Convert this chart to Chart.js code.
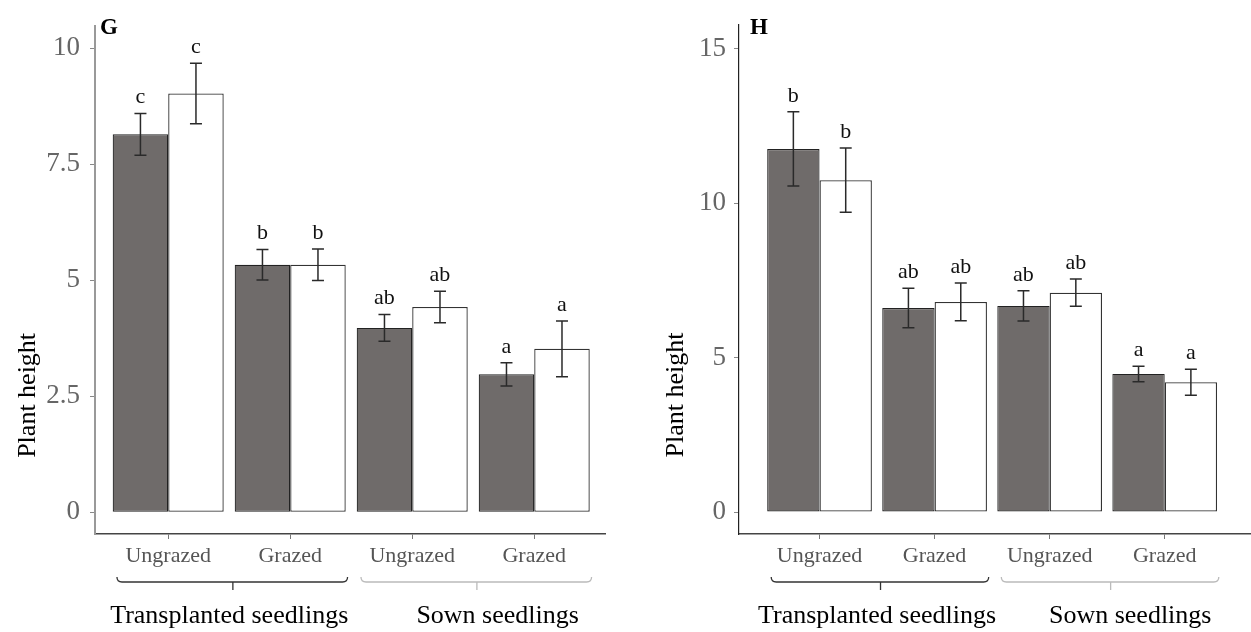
<!DOCTYPE html>
<html>
<head>
<meta charset="utf-8">
<script src="https://cdn.jsdelivr.net/npm/chart.js@4/dist/chart.umd.min.js"></script>
<style>
  body { margin: 0; background: #fff; }
  .panel { position: absolute; top: 0; }
</style>
</head>
<body>
<div class="panel" style="left:0"><canvas id="chart-g" width="625" height="632"></canvas></div>
<div class="panel" style="left:625px"><canvas id="chart-h" width="626" height="632"></canvas></div>
<script>
const categories = ['Ungrazed', 'Grazed', 'Ungrazed', 'Grazed'];
const groupNames = ['Transplanted seedlings', 'Sown seedlings'];

// panel G
const gDark = [8.14, 5.33, 3.97, 2.97];
const gDarkErr = [0.45, 0.33, 0.29, 0.25];
const gLight = [9.02, 5.33, 4.42, 3.52];
const gLightErr = [0.65, 0.34, 0.34, 0.6];
const gDarkLetters = ['c', 'b', 'ab', 'a'];
const gLightLetters = ['c', 'b', 'ab', 'a'];
const gTicks = [0, 2.5, 5, 7.5, 10];

// panel H
const hDark = [11.75, 6.6, 6.67, 4.47];
const hDarkErr = [1.2, 0.64, 0.49, 0.25];
const hLight = [10.74, 6.8, 7.1, 4.2];
const hLightErr = [1.04, 0.61, 0.44, 0.42];
const hDarkLetters = ['b', 'ab', 'ab', 'a'];
const hLightLetters = ['b', 'ab', 'ab', 'a'];
const hTicks = [0, 5, 10, 15];

const SERIF = '"Liberation Serif", "DejaVu Serif", serif';

// error bars, letters, brackets and panel tag
const annotate = {
    id: 'annotate',
    afterDatasetsDraw(chart, args, o) {
        const ctx = chart.ctx;
        const y = chart.scales.y;
        ctx.save();
        chart.data.datasets.forEach((ds, di) => {
            const meta = chart.getDatasetMeta(di);
            meta.data.forEach((bar, i) => {
                const v = ds.data[i].y, e = o.errors[di][i];
                const top = y.getPixelForValue(v + e), bot = y.getPixelForValue(v - e);
                ctx.strokeStyle = '#2a2a2a';
                ctx.lineWidth = 1.5;
                ctx.beginPath();
                ctx.moveTo(bar.x, top); ctx.lineTo(bar.x, bot);
                ctx.moveTo(bar.x - 6, top); ctx.lineTo(bar.x + 6, top);
                ctx.moveTo(bar.x - 6, bot); ctx.lineTo(bar.x + 6, bot);
                ctx.stroke();
                ctx.fillStyle = '#111';
                ctx.font = '22px ' + SERIF;
                ctx.textAlign = 'center';
                ctx.textBaseline = 'alphabetic';
                ctx.fillText(o.letters[di][i], bar.x, top - 10);
            });
        });
        ctx.restore();
    },
    afterDraw(chart, args, o) {
        const ctx = chart.ctx;
        const x = chart.scales.x;
        const area = chart.chartArea;
        ctx.save();
        // panel tag
        ctx.fillStyle = '#000';
        ctx.font = 'bold 23px ' + SERIF;
        ctx.textAlign = 'left';
        ctx.textBaseline = 'alphabetic';
        ctx.fillText(o.tag, area.left + o.tagDx, 34);
        // y title
        ctx.save();
        ctx.translate(o.titleX, area.top + 0.727 * (area.bottom - area.top));
        ctx.rotate(-Math.PI / 2);
        ctx.font = '26px ' + SERIF;
        ctx.textAlign = 'center';
        ctx.textBaseline = 'middle';
        ctx.fillText('Plant height', 0, 0);
        ctx.restore();
        // group brackets
        const by = 582;
        o.groups.forEach((g, gi) => {
            const l = x.getPixelForValue(g.from - 0.42);
            const r = x.getPixelForValue(g.to + 0.47);
            const c = x.getPixelForValue((g.from + g.to) / 2 + 0.03);
            ctx.strokeStyle = gi === 0 ? '#333' : '#bbb';
            ctx.lineWidth = 1.3;
            ctx.beginPath();
            ctx.moveTo(l, by - 5);
            ctx.quadraticCurveTo(l, by, l + 5, by);
            ctx.lineTo(r - 5, by);
            ctx.quadraticCurveTo(r, by, r, by - 5);
            ctx.moveTo(c, by);
            ctx.lineTo(c, by + 8);
            ctx.stroke();
            ctx.fillStyle = '#000';
            ctx.font = '26px ' + SERIF;
            ctx.textAlign = 'center';
            ctx.fillText(groupNames[gi], x.getPixelForValue(g.labelAt), 623);
        });
        ctx.restore();
    }
};

function makePanel(canvasId, dark, darkErr, light, lightErr, darkLetters, lightLetters, ticks, opt) {
    const ctx = document.getElementById(canvasId).getContext('2d');
    return new Chart(ctx, {
        type: 'bar',
        data: {
            datasets: [
                {
                    label: 'dark',
                    data: dark.map((v, i) => ({ x: i + 1, y: v })),
                    backgroundColor: '#6f6b6a',
                    borderColor: '#222',
                    borderWidth: 1.2,
                    borderSkipped: false
                },
                {
                    label: 'light',
                    data: light.map((v, i) => ({ x: i + 1, y: v })),
                    backgroundColor: '#ffffff',
                    borderColor: '#333',
                    borderWidth: 1.3,
                    borderSkipped: false
                }
            ]
        },
        options: {
            responsive: false,
            animation: false,
            categoryPercentage: 0.91,
            barPercentage: 1,
            layout: { padding: { top: opt.top, right: opt.right, left: 0, bottom: 0 } },
            plugins: {
                legend: { display: false },
                tooltip: { enabled: false },
                annotate: {
                    errors: [darkErr, lightErr],
                    letters: [darkLetters, lightLetters],
                    tag: opt.tag,
                    tagDx: opt.tagDx,
                    titleX: opt.titleX,
                    groups: [
                        { from: 1, to: 2, labelAt: 1.5 },
                        { from: 3, to: 4, labelAt: 3.7 }
                    ]
                }
            },
            scales: {
                x: {
                    type: 'linear',
                    offset: false,
                    min: opt.xMin,
                    max: opt.xMax,
                    afterBuildTicks: s => { s.ticks = categories.map((c, i) => ({ value: i + 1 })); },
                    afterFit: s => { s.height = 98; },
                    ticks: {
                        callback: v => categories[v - 1],
                        color: '#555',
                        font: { family: SERIF, size: 22 },
                        padding: 4,
                        autoSkip: false,
                        maxRotation: 0
                    },
                    grid: { drawOnChartArea: false, offset: false, tickLength: 5, color: '#777' },
                    border: { display: true, color: '#444', width: 1.6 }
                },
                y: {
                    min: opt.yMin,
                    max: opt.yMax,
                    afterBuildTicks: s => { s.ticks = ticks.map(v => ({ value: v })); },
                    afterFit: s => { s.width = opt.left; },
                    ticks: {
                        callback: v => String(v),
                        color: '#666',
                        font: { family: SERIF, size: 27 },
                        padding: opt.tickPad
                    },
                    grid: { drawOnChartArea: false, tickLength: 5, color: '#888' },
                    border: { display: true, color: opt.yBorder, width: opt.yBorderW }
                }
            }
        },
        plugins: [annotate]
    });
}

makePanel('chart-g', gDark, gDarkErr, gLight, gLightErr, gDarkLetters, gLightLetters, gTicks, {
    tag: 'G', tagDx: 5, titleX: 28, top: 23, right: 20, left: 95,
    xMin: 0.4, xMax: 4.58, yMin: -0.47, yMax: 10.47, tickPad: 10,
    yBorder: '#999', yBorderW: 2
});

makePanel('chart-h', hDark, hDarkErr, hLight, hLightErr, hDarkLetters, hLightLetters, hTicks, {
    tag: 'H', tagDx: 11, titleX: 51, top: 25, right: 0, left: 114,
    xMin: 0.3, xMax: 4.75, yMin: -0.71, yMax: 15.76, tickPad: 8,
    yBorder: '#222', yBorderW: 1.2
});
</script>
</body>
</html>
